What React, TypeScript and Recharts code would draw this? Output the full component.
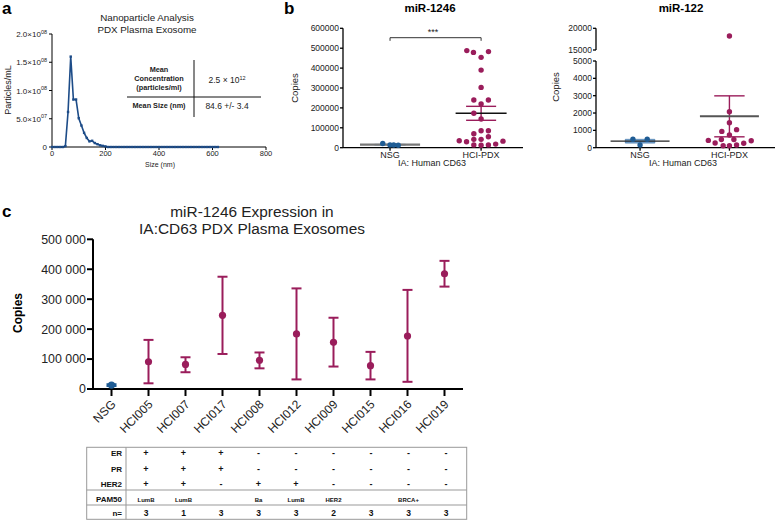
import React from 'react';
import {
  LineChart,
  Line,
  ScatterChart,
  Scatter,
  XAxis,
  YAxis,
  ErrorBar,
  ReferenceLine,
  ReferenceArea,
} from 'recharts';

const FONT = '"Liberation Sans", Arial, Helvetica, sans-serif';
const MAGENTA = '#9a1d5b';
const BLUE = '#1f5c94';
const NAVY = '#1d4c88';
const INK = '#222';

// ---- a: nanoparticle size distribution ----
const nanoSizes = [
  0, 10, 20, 30, 40, 50, 60, 70, 80, 90, 100, 110, 120, 130, 140, 150, 160, 170, 180, 190, 200,
  210, 220, 230, 240, 250, 260, 270, 280, 290, 300, 310, 320, 330, 340, 350, 360, 370, 380, 390,
  400, 410, 420, 430, 440, 450, 460, 470, 480, 490, 500, 510, 520, 530, 540, 550, 560, 570, 580,
  590, 600, 610, 620,
];
const nanoParticles = [
  0, 0, 0, 0, 0, 1.5e6, 6.2e7, 1.6e8, 8.4e7, 8.4e7, 5.1e7, 3.8e7, 2.5e7, 1.6e7, 1.0e7, 1.1e7,
  7e6, 5e6, 3e6, 2e6, 1e6,
  0, 0, 0, 0, 0, 0, 0, 0, 0, 0, 0, 0, 0, 0, 0, 0, 0, 0, 0, 0, 0,
  0, 0, 0, 0, 0, 0, 0, 0, 0, 0, 0, 0, 0, 0, 0, 0, 0, 0, 0, 0, 0,
];
const nanoXTicks = [0, 200, 400, 600, 800];
const nanoYTicks = [0, 5e7, 1e8, 1.5e8, 2e8];

// ---- b: miR-1246 copies (x = group position + jitter) ----
const groupLabels = ['NSG', 'HCI-PDX'];
const mir1246NsgCopies = [21000, 14000, 12000, 13500];
const mir1246NsgJitter = [-0.08, 0, 0.09, 0.04];
const mir1246HciCopies = [
  488000, 479000, 483000, 454000, 390000, 303000, 239500, 219600, 239500, 172900, 144000,
  85000, 85000, 70000, 55000, 42000, 42000, 35000, 30000, 33000, 14000, 12000, 14000, 18000,
];
const mir1246HciJitter = [
  -0.157, -0.084, 0.081, 0, 0, 0, -0.08, 0, 0.08, -0.08, 0,
  0, 0.08, -0.08, 0.08, -0.08, 0, -0.24, -0.16, 0.24, -0.08, 0, 0.08, 0.16,
];
const mir1246Ticks = [0, 100000, 200000, 300000, 400000, 500000, 600000];

// ---- b: miR-122 copies ----
const mir122NsgCopies = [484, 484, 156];
const mir122NsgJitter = [-0.08, 0.08, 0];
const mir122HciCopies = [18230, 2077, 1442, 1040, 940, 732, 420, 470, 470, 404, 270, 115, 115, 156, 254];
const mir122HciJitter = [0, 0, 0, 0.08, -0.085, 0, -0.236, -0.09, 0.05, 0.244, -0.16, -0.07, 0, 0.08, 0.16];
const mir122LowTicks = [0, 1000, 2000, 3000, 4000, 5000];
const mir122HighTicks = [15000, 20000];

// ---- c: per-model miR-1246 (mean with range bars) ----
const models = ['NSG', 'HCI005', 'HCI007', 'HCI017', 'HCI008', 'HCI012', 'HCI009', 'HCI015', 'HCI016', 'HCI019'];
const modelMean = [13000, 91000, 82000, 246000, 96000, 184000, 156000, 78000, 177000, 385000];
const modelUpper = [16000, 164000, 106000, 375000, 122000, 336000, 238000, 124000, 331000, 428000];
const modelLower = [10000, 19000, 56000, 117000, 69000, 32000, 75000, 32000, 24000, 342000];
const modelYTicks = [0, 100000, 200000, 300000, 400000, 500000];

// ---- c: receptor table (columns follow models after NSG) ----
const erStatus = ['+', '+', '+', '-', '-', '-', '-', '-', '-'];
const prStatus = ['+', '+', '+', '-', '-', '-', '-', '-', '-'];
const her2Status = ['+', '+', '-', '+', '+', '-', '-', '-', '-'];
const pam50 = ['LumB', 'LumB', '', 'Ba', 'LumB', 'HER2', '', 'BRCA+', ''];
const nSamples = [3, 1, 3, 3, 3, 2, 3, 3, 3];

const mean = (a: number[]) => a.reduce((s, v) => s + v, 0) / a.length;
const sem = (a: number[]) => {
  const m = mean(a);
  const v = a.reduce((s, x) => s + (x - m) * (x - m), 0) / (a.length - 1);
  return Math.sqrt(v / a.length);
};

const toPoints = (group: number, jitter: number[], values: number[]) =>
  values.map((y, i) => ({ x: group + jitter[i], y }));

const nanoData = nanoSizes.map((size, i) => ({ size, particles: nanoParticles[i] }));

const modelData = models.map((name, i) => ({
  x: i,
  y: modelMean[i],
  err: [modelMean[i] - modelLower[i], modelUpper[i] - modelMean[i]],
}));

const SciTick = (props: any) => {
  const { x, y, payload } = props;
  const v = payload.value as number;
  if (v === 0) {
    return (
      <text x={x} y={y} dy={3} textAnchor="end" fontSize={8} fontFamily={FONT} fill={INK}>0</text>
    );
  }
  const exp = Math.floor(Math.log10(v) + 1e-9);
  const mant = (v / Math.pow(10, exp)).toFixed(1);
  return (
    <text x={x} y={y} dy={3} textAnchor="end" fontSize={8} fontFamily={FONT} fill={INK}>
      {mant}×10<tspan dy={-3.5} fontSize={5.5}>{String(exp).padStart(2, '0')}</tspan>
    </text>
  );
};

const SlantTick = (props: any) => {
  const { x, y, payload } = props;
  return (
    <text
      x={0}
      y={0}
      transform={`translate(${x + 5},${y + 9}) rotate(-45)`}
      textAnchor="end"
      fontSize={12}
      fontFamily={FONT}
      fill={INK}
    >
      {models[payload.value]}
    </text>
  );
};

const DotSquare = (props: any) => {
  const { cx, cy, index } = props;
  if (cx == null || cy == null) return <g key={index} />;
  return <rect key={index} x={cx - 1.2} y={cy - 1.2} width={2.4} height={2.4} fill={NAVY} />;
};

const dotShape = (r: number, fill: string) => (p: any) => <circle cx={p.cx} cy={p.cy} r={r} fill={fill} />;

// mean line + SEM whisker for a scatter group
function summary(
  key: string,
  center: number,
  values: number[],
  meanHalf: number,
  capHalf: number,
  meanColor: string,
  semColor: string,
  meanWidth: number,
) {
  const m = mean(values);
  const s = sem(values);
  return [
    <ReferenceLine key={key + 'v'} segment={[{ x: center, y: m - s }, { x: center, y: m + s }]} stroke={semColor} strokeWidth={1.4} ifOverflow="visible" />,
    <ReferenceLine key={key + 'hi'} segment={[{ x: center - capHalf, y: m + s }, { x: center + capHalf, y: m + s }]} stroke={semColor} strokeWidth={1.4} ifOverflow="visible" />,
    <ReferenceLine key={key + 'lo'} segment={[{ x: center - capHalf, y: m - s }, { x: center + capHalf, y: m - s }]} stroke={semColor} strokeWidth={1.4} ifOverflow="visible" />,
    <ReferenceLine key={key + 'm'} segment={[{ x: center - meanHalf, y: m }, { x: center + meanHalf, y: m }]} stroke={meanColor} strokeWidth={meanWidth} ifOverflow="visible" />,
  ];
}

function semBox(key: string, center: number, values: number[], half: number) {
  const m = mean(values);
  const s = sem(values);
  return (
    <ReferenceArea
      key={key}
      x1={center - half}
      x2={center + half}
      y1={m - s}
      y2={m + s}
      fill="#4f86bb"
      fillOpacity={0.75}
      stroke="#2f6aa3"
      strokeWidth={0.6}
      ifOverflow="visible"
    />
  );
}

const smallTick = { fontSize: 8.5, fill: INK, fontFamily: FONT };
const groupTick = { fontSize: 9, fill: INK, fontFamily: FONT };

export default function App() {
  const mir1246Nsg = toPoints(1, mir1246NsgJitter, mir1246NsgCopies);
  const mir1246Hci = toPoints(2, mir1246HciJitter, mir1246HciCopies);
  const mir122Nsg = toPoints(1, mir122NsgJitter, mir122NsgCopies);
  const mir122Hci = toPoints(2, mir122HciJitter, mir122HciCopies);
  const mir122HciLow = mir122Hci.filter((p) => p.y <= 5000);
  const mir122HciHigh = mir122Hci.filter((p) => p.y >= 15000);

  const colX = (i: number) => 146 + 37.5 * i;
  const rowText = (label: string, vals: (string | number)[], y: number, size: number) => (
    <g key={label}>
      <text x={122} y={y} textAnchor="end" fontSize={8} fontWeight="bold">{label}</text>
      {vals.map((v, i) => (
        <text key={i} x={colX(i)} y={y} textAnchor="middle" fontSize={size} fontWeight="bold">{v}</text>
      ))}
    </g>
  );

  return (
    <div style={{ position: 'absolute', left: 0, top: 0, width: 778, height: 521, background: '#fff', overflow: 'hidden' }}>
      {/* a */}
      <div style={{ position: 'absolute', left: 0, top: 0 }}>
        <LineChart width={280} height={172} data={nanoData} margin={{ top: 34, right: 14, left: 0, bottom: 10 }}>
          <XAxis
            dataKey="size"
            type="number"
            domain={[0, 800]}
            ticks={nanoXTicks}
            interval={0}
            height={15}
            tickSize={3}
            tickMargin={1}
            stroke="#000"
            tick={{ fontSize: 7.5, fill: INK, fontFamily: FONT }}
          />
          <YAxis
            type="number"
            domain={[0, 2e8]}
            ticks={nanoYTicks}
            interval={0}
            width={52}
            tickSize={3}
            tickMargin={2}
            stroke="#000"
            tick={(p: any) => <SciTick {...p} />}
          />
          <Line
            dataKey="particles"
            type="linear"
            stroke={NAVY}
            strokeWidth={1.6}
            dot={(p: any) => <DotSquare {...p} />}
            isAnimationActive={false}
          />
        </LineChart>
      </div>

      {/* b: miR-1246 */}
      <div style={{ position: 'absolute', left: 280, top: 0 }}>
        <ScatterChart width={250} height={172} margin={{ top: 28.3, right: 7, left: 0, bottom: 10.3 }}>
          <XAxis
            dataKey="x"
            type="number"
            domain={[0.4835, 2.46]}
            ticks={[1, 2]}
            interval={0}
            tickFormatter={(v: number) => groupLabels[v - 1]}
            height={14}
            tickSize={3}
            tickMargin={1}
            stroke="#000"
            strokeWidth={1.3}
            tick={groupTick}
          />
          <YAxis
            dataKey="y"
            type="number"
            domain={[0, 600000]}
            ticks={mir1246Ticks}
            interval={0}
            width={63}
            tickSize={3}
            tickMargin={1}
            stroke="#000"
            strokeWidth={1.3}
            tick={smallTick}
          />
          <Scatter data={mir1246Nsg} fill={BLUE} shape={dotShape(2.7, BLUE)} isAnimationActive={false} />
          <Scatter data={mir1246Hci} fill={MAGENTA} shape={dotShape(2.7, MAGENTA)} isAnimationActive={false} />
          {semBox('nsgbox', 1, mir1246NsgCopies, 0.17)}
          <ReferenceLine
            segment={[{ x: 1 - 0.33, y: mean(mir1246NsgCopies) }, { x: 1 + 0.33, y: mean(mir1246NsgCopies) }]}
            stroke="#777"
            strokeWidth={2.2}
            ifOverflow="visible"
          />
          {summary('hci', 2, mir1246HciCopies, 0.28, 0.165, '#111', MAGENTA, 1.4)}
          <ReferenceLine segment={[{ x: 1, y: 552800 }, { x: 2, y: 552800 }]} stroke="#333" strokeWidth={1} ifOverflow="visible" />
          <ReferenceLine segment={[{ x: 1, y: 552800 }, { x: 1, y: 537000 }]} stroke="#333" strokeWidth={1} ifOverflow="visible" />
          <ReferenceLine segment={[{ x: 2, y: 552800 }, { x: 2, y: 537000 }]} stroke="#333" strokeWidth={1} ifOverflow="visible" />
        </ScatterChart>
      </div>

      {/* b: miR-122, upper part of broken axis */}
      <div style={{ position: 'absolute', left: 520, top: 18 }}>
        <ScatterChart width={258} height={36} margin={{ top: 10.3, right: 3, left: 0, bottom: 4 }}>
          <XAxis dataKey="x" type="number" domain={[0.507, 2.51]} hide />
          <YAxis
            dataKey="y"
            type="number"
            domain={[15000, 20000]}
            ticks={mir122HighTicks}
            interval={0}
            width={76}
            tickSize={3}
            tickMargin={1}
            stroke="#000"
            strokeWidth={1.3}
            tick={smallTick}
          />
          <Scatter data={mir122HciHigh} fill={MAGENTA} shape={dotShape(2.7, MAGENTA)} isAnimationActive={false} />
        </ScatterChart>
      </div>

      {/* b: miR-122, lower part */}
      <div style={{ position: 'absolute', left: 520, top: 52 }}>
        <ScatterChart width={258} height={120} margin={{ top: 9, right: 3, left: 0, bottom: 10.3 }}>
          <XAxis
            dataKey="x"
            type="number"
            domain={[0.507, 2.51]}
            ticks={[1, 2]}
            interval={0}
            tickFormatter={(v: number) => groupLabels[v - 1]}
            height={14}
            tickSize={3}
            tickMargin={1}
            stroke="#000"
            strokeWidth={1.3}
            tick={groupTick}
          />
          <YAxis
            dataKey="y"
            type="number"
            domain={[0, 5000]}
            ticks={mir122LowTicks}
            interval={0}
            width={76}
            tickSize={3}
            tickMargin={1}
            stroke="#000"
            strokeWidth={1.3}
            tick={smallTick}
          />
          {semBox('nsgbox122', 1, mir122NsgCopies, 0.165)}
          <Scatter data={mir122Nsg} fill={BLUE} shape={dotShape(2.7, BLUE)} isAnimationActive={false} />
          <Scatter data={mir122HciLow} fill={MAGENTA} shape={dotShape(2.7, MAGENTA)} isAnimationActive={false} />
          <ReferenceLine
            segment={[{ x: 1 - 0.33, y: mean(mir122NsgCopies) }, { x: 1 + 0.33, y: mean(mir122NsgCopies) }]}
            stroke="#222"
            strokeWidth={1.3}
            ifOverflow="visible"
          />
          {summary('hci122', 2, mir122HciCopies, 0.33, 0.17, '#555', MAGENTA, 2)}
        </ScatterChart>
      </div>

      {/* c */}
      <div style={{ position: 'absolute', left: 0, top: 230 }}>
        <ScatterChart width={480} height={220} margin={{ top: 9.3, right: 17, left: 0, bottom: 11 }}>
          <XAxis
            dataKey="x"
            type="number"
            domain={[-0.5, 9.5]}
            ticks={models.map((_, i) => i)}
            interval={0}
            height={50}
            tickSize={7}
            tickMargin={0}
            stroke="#000"
            strokeWidth={2}
            tick={(p: any) => <SlantTick {...p} />}
          />
          <YAxis
            dataKey="y"
            type="number"
            domain={[0, 500000]}
            ticks={modelYTicks}
            interval={0}
            tickFormatter={(v: number) => (v === 0 ? '0' : `${v / 1000} 000`)}
            width={93}
            tickSize={6}
            tickMargin={1}
            stroke="#000"
            strokeWidth={2}
            tick={{ fontSize: 12.4, fill: INK, fontFamily: FONT }}
          />
          <Scatter data={modelData.slice(0, 1)} fill={BLUE} shape={dotShape(3.6, BLUE)} isAnimationActive={false}>
            <ErrorBar dataKey="err" direction="y" width={5} stroke={BLUE} strokeWidth={2} />
          </Scatter>
          <Scatter data={modelData.slice(1)} fill={MAGENTA} shape={dotShape(3.6, MAGENTA)} isAnimationActive={false}>
            <ErrorBar dataKey="err" direction="y" width={5} stroke={MAGENTA} strokeWidth={2} />
          </Scatter>
        </ScatterChart>
      </div>

      {/* text, table and annotations */}
      <svg width={778} height={521} style={{ position: 'absolute', left: 0, top: 0, pointerEvents: 'none' }} fontFamily={FONT} fill={INK}>
        <text x={2} y={14} fontSize={17} fontWeight="bold" fill="#000">a</text>
        <text x={284} y={14} fontSize={17} fontWeight="bold" fill="#000">b</text>
        <text x={2} y={217} fontSize={17} fontWeight="bold" fill="#000">c</text>

        <text x={147} y={20.5} fontSize={9.8} textAnchor="middle">Nanoparticle Analysis</text>
        <text x={147} y={32.5} fontSize={9.8} textAnchor="middle">PDX Plasma Exosome</text>
        <text x={0} y={0} fontSize={9} textAnchor="middle" transform="translate(11,90) rotate(-90)">Particles/mL</text>
        <text x={160} y={167} fontSize={7} textAnchor="middle">Size (nm)</text>

        <line x1={194} y1={60} x2={194} y2={117} stroke="#111" strokeWidth={1} />
        <line x1={127} y1={97} x2={261} y2={97} stroke="#111" strokeWidth={1} />
        <text x={159} y={72} fontSize={7.3} fontWeight="bold" textAnchor="middle">Mean</text>
        <text x={159} y={81} fontSize={7.3} fontWeight="bold" textAnchor="middle">Concentration</text>
        <text x={159} y={90} fontSize={7.3} fontWeight="bold" textAnchor="middle">(particles/ml)</text>
        <text x={227} y={83} fontSize={8.5} textAnchor="middle">
          2.5 × 10<tspan dy={-3} fontSize={5.5}>12</tspan>
        </text>
        <text x={159} y={108} fontSize={7.3} fontWeight="bold" textAnchor="middle">Mean Size (nm)</text>
        <text x={227} y={109} fontSize={8.5} textAnchor="middle">84.6 +/- 3.4</text>

        <text x={430} y={12} fontSize={11.5} fontWeight="bold" textAnchor="middle" fill="#000">miR-1246</text>
        <text x={681} y={12} fontSize={11.5} fontWeight="bold" textAnchor="middle" fill="#000">miR-122</text>
        <text x={433} y={35} fontSize={9} textAnchor="middle">***</text>
        <text x={0} y={0} fontSize={9.5} textAnchor="middle" transform="translate(298,88) rotate(-90)">Copies</text>
        <text x={0} y={0} fontSize={9.5} textAnchor="middle" transform="translate(559,87) rotate(-90)">Copies</text>
        <text x={432} y={166} fontSize={9} textAnchor="middle">IA: Human CD63</text>
        <text x={683} y={166} fontSize={9} textAnchor="middle">IA: Human CD63</text>

        <text x={252} y={216.7} fontSize={15.4} textAnchor="middle">miR-1246 Expression in</text>
        <text x={252} y={234.3} fontSize={15.4} textAnchor="middle">IA:CD63 PDX Plasma Exosomes</text>
        <text x={0} y={0} fontSize={12} fontWeight="bold" textAnchor="middle" transform="translate(22,313) rotate(-90)" fill="#000">Copies</text>

        <g fill="#111" fontFamily={FONT}>
          <rect x={86.7} y={447.3} width={380} height={72} fill="none" stroke="#999" strokeWidth={1} />
          <line x1={126} y1={447.3} x2={126} y2={519.3} stroke="#999" strokeWidth={1} />
          <line x1={86.7} y1={490} x2={466.7} y2={490} stroke="#999" strokeWidth={1} />
          <line x1={86.7} y1={505} x2={466.7} y2={505} stroke="#999" strokeWidth={1} />
          {rowText('ER', erStatus, 456, 9)}
          {rowText('PR', prStatus, 472, 9)}
          {rowText('HER2', her2Status, 487, 9)}
          {rowText('PAM50', pam50, 502, 6)}
          {rowText('n=', nSamples, 515.5, 8.5)}
        </g>
      </svg>
    </div>
  );
}
